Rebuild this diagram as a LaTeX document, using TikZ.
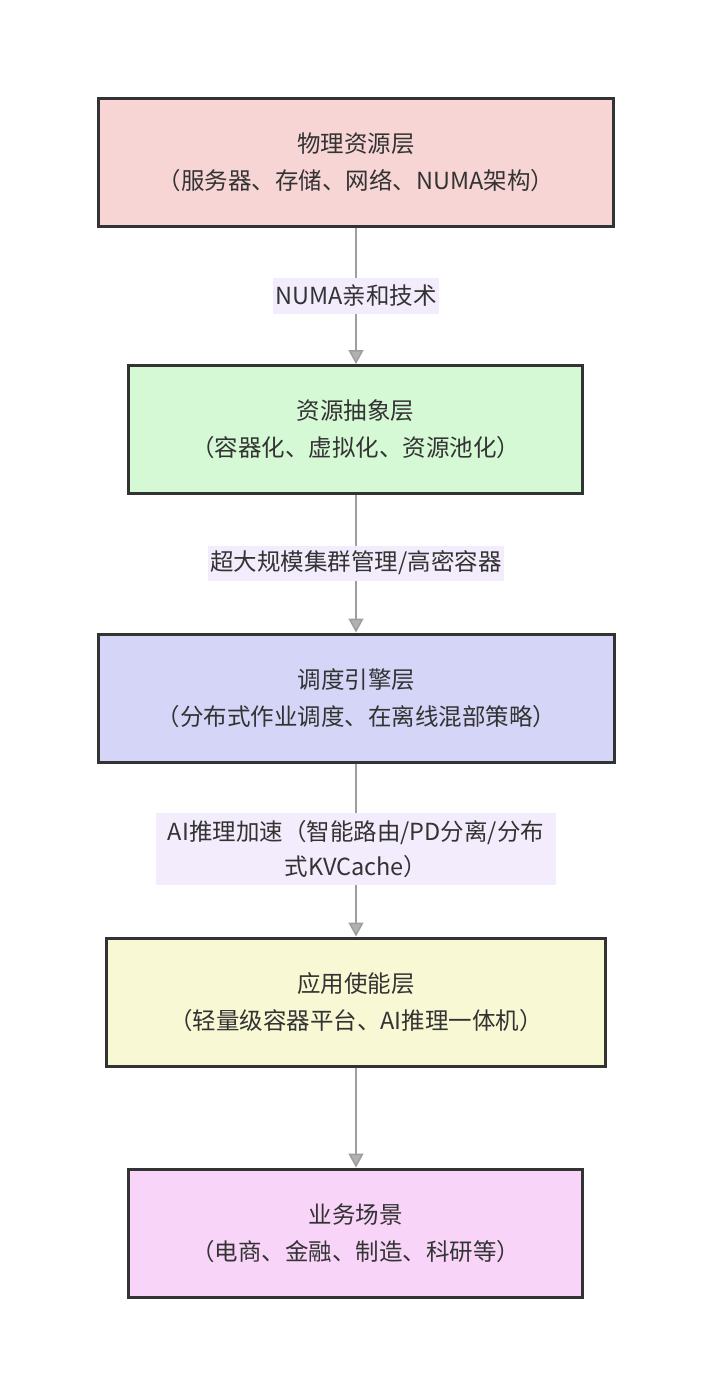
\documentclass[tikz,border=0pt]{standalone}
\usepackage{fontspec}
\setmainfont{Noto Sans CJK SC}
\usetikzlibrary{arrows.meta}
\definecolor{txt}{HTML}{333333}
\definecolor{bd}{HTML}{333333}
\definecolor{cA}{HTML}{F8D5D5}
\definecolor{cB}{HTML}{D5F8D5}
\definecolor{cC}{HTML}{D5D5F8}
\definecolor{cD}{HTML}{F8F8D5}
\definecolor{cE}{HTML}{F8D5F8}
\definecolor{lblbg}{HTML}{F3ECFC}
\definecolor{edgec}{HTML}{9E9E9E}
\begin{document}
\begin{tikzpicture}[x=1pt,y=-1pt,
  layer/.style={draw=bd, line width=3pt, minimum height=128pt, align=center,
    text=txt, font=\fontsize{23.5}{37}\selectfont},
  lbl/.style={fill=lblbg, text=txt, align=center, inner xsep=2pt, inner ysep=0pt,
    minimum height=35pt, font=\fontsize{23.5}{35}\selectfont},
  conn/.style={draw=edgec, line width=1.5pt,
    -{Triangle[width=15pt,length=14pt,fill=edgec!80!white]}}]
\useasboundingbox (0,0) rectangle (712,1396);
\node[layer, fill=cA, minimum width=515pt] (a) at (356,162.5) {物理资源层\\（服务器、存储、网络、NUMA架构）};
\node[layer, fill=cB, minimum width=454pt] (b) at (355.5,429.5) {资源抽象层\\（容器化、虚拟化、资源池化）};
\node[layer, fill=cC, minimum width=516pt] (c) at (356.5,698) {调度引擎层\\（分布式作业调度、在离线混部策略）};
\node[layer, fill=cD, minimum width=499pt] (d) at (356,1002) {应用使能层\\（轻量级容器平台、AI推理一体机）};
\node[layer, fill=cE, minimum width=454pt] (e) at (355.5,1233) {业务场景\\（电商、金融、制造、科研等）};
\draw[conn] (a.south -| 356,0) -- (b.north -| 356,0);
\draw[conn] (b.south -| 356,0) -- (c.north -| 356,0);
\draw[conn] (c.south -| 356,0) -- (d.north -| 356,0);
\draw[conn] (d.south -| 356,0) -- (e.north -| 356,0);
\node[lbl] (l1) at (356,296) {NUMA亲和技术};
\node[lbl] (l2) at (356,563) {超大规模集群管理/高密容器};
\node[lbl, minimum width=400pt, minimum height=72pt] (l3) at (356,849) {AI推理加速（智能路由/PD分离/分布\\式KVCache）};
\end{tikzpicture}
\end{document}
